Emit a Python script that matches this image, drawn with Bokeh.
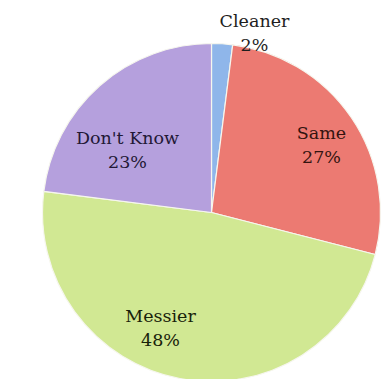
import math
from bokeh.plotting import figure
from bokeh.models import Range1d, ColumnDataSource
from bokeh.core.properties import value
from bokeh.embed import file_html
from bokeh.resources import INLINE

# data
categories = ["Cleaner", "Same", "Messier", "Don't Know"]
shares = [2, 27, 48, 23]
pct_labels = ["2%", "27%", "48%", "23%"]

# styling
colors = ["#8fb6ea", "#ec7a72", "#d1e893", "#b5a0dd"]
text_colors = ["#1e1e1e", "#331410", "#18220a", "#221835"]

W, H = 385, 379
cx, cy, R = 211, H - 212, 169
# label anchor positions (screen px)
label_x = [254, 321, 160, 127]
label_y = [20, 132, 315, 137]
line_gap = 24

total = sum(shares)
starts, ends = [], []
cum = 0.0
for s in shares:
    starts.append(math.pi / 2 - 2 * math.pi * cum / total)
    cum += s
    ends.append(math.pi / 2 - 2 * math.pi * cum / total)

src = ColumnDataSource(dict(
    cat=categories, start=starts, end=ends, color=colors,
    x=[cx] * len(shares), y=[cy] * len(shares),
))

p = figure(width=W, height=H, x_range=Range1d(0, W), y_range=Range1d(0, H),
           output_backend="svg", toolbar_location=None, min_border=0)
p.axis.visible = False
p.grid.visible = False
p.outline_line_color = None
p.background_fill_color = "white"
p.border_fill_color = "white"

p.wedge(x="x", y="y", radius=R, start_angle="start", end_angle="end",
        direction="clock", fill_color="color", line_color="#f6f6ee",
        line_width=1.2, source=src)

lsrc = ColumnDataSource(dict(
    x=label_x,
    y1=[H - v for v in label_y],
    y2=[H - v - line_gap for v in label_y],
    name=categories, pct=pct_labels, tc=text_colors,
))
for col in ("name", "pct"):
    p.text(x="x", y="y1" if col == "name" else "y2", text=col, source=lsrc,
           text_align="center", text_baseline="middle",
           text_font=value("DejaVu Serif"), text_font_size="17.5px",
           text_color="tc")

open("out.html", "w").write(file_html(p, INLINE))
